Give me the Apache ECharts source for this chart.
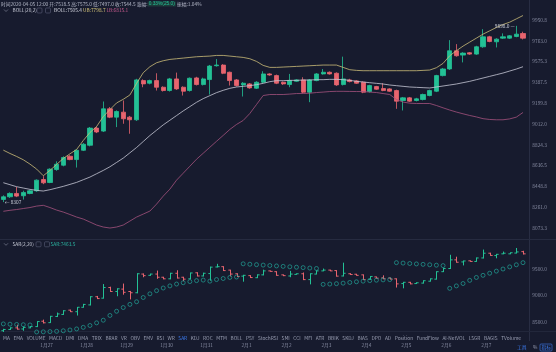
<!DOCTYPE html>
<html>
<head>
<meta charset="utf-8">
<script src="https://cdn.jsdelivr.net/npm/echarts@6/dist/echarts.min.js"></script>
<style>
  html, body { margin: 0; padding: 0; background: #171b2e; }
  #chart { width: 556px; height: 352px; }
</style>
</head>
<body>
<div id="chart"></div>
<script>
// 4h candles, 2020-01-25 20:00 .. 2020-02-08 04:00
const openP  = [8331,8355,8385,8364,8385,8409,8511,8484,8601,8640,8721,8691,8775,8820,8975,8948,9149,9074,9119,9074,
  9050,9404,9380,9404,9344,9314,9419,9344,9314,9428,9368,9413,9538,9544,9479,9410,9365,9374,9335,9389,
  9464,9449,9389,9368,9398,9410,9299,9404,9464,9479,9470,9368,9410,9401,9389,9305,9350,9332,9329,9314,
  9224,9248,9224,9233,9269,9308,9449,9509,9673,9634,9655,9643,9709,9799,9754,9787,9787,9802,9829];
const closeP = [8355,8385,8361,8394,8409,8505,8481,8604,8649,8709,8691,8775,8829,8975,8940,9149,9074,9125,9059,9050,
  9410,9374,9404,9344,9314,9419,9329,9308,9425,9368,9419,9535,9544,9470,9404,9359,9380,9338,9389,9464,
  9455,9380,9374,9404,9410,9299,9410,9464,9479,9464,9365,9419,9395,9380,9299,9359,9326,9314,9308,9218,
  9248,9218,9239,9278,9314,9449,9509,9673,9628,9652,9643,9709,9799,9757,9778,9799,9808,9823,9787];
const lowP   = [8307,8345,8352,8330,8378,8400,8469,8478,8590,8630,8685,8619,8768,8810,8930,8940,9065,8984,9014,8924,
  9040,9344,9370,9314,9305,9305,9320,9269,9305,9360,9360,9278,9530,9462,9359,9350,9260,9330,9328,9380,
  9448,9372,9365,9344,9392,9290,9209,9398,9458,9458,9356,9360,9388,9374,9290,9296,9320,9308,9302,9149,
  9134,9210,9216,9225,9262,9300,9442,9500,9620,9568,9636,9636,9700,9750,9703,9780,9780,9795,9775];
const highP  = [8368,8395,8445,8410,8418,8512,8541,8612,8675,8720,8730,8780,8840,8985,8990,9215,9165,9135,9224,9085,
  9420,9415,9412,9470,9352,9428,9476,9352,9432,9438,9430,9545,9598,9552,9485,9418,9390,9382,9398,9488,
  9470,9458,9395,9464,9416,9434,9418,9472,9508,9486,9478,9620,9420,9408,9396,9366,9356,9380,9335,9322,
  9256,9256,9248,9286,9322,9456,9518,9769,9733,9660,9662,9718,9868,9808,9786,9830,9815,9898,9845];

// BOLL(20,2)
const bollUB = [8776,8746,8719,8689,8650,8605,8545,8593,8647,8701,8743,8782,8863,8935,8989,9079,9142,9202,9235,9274,
  9379,9475,9529,9565,9583,9595,9601,9607,9613,9619,9622,9625,9631,9631,9625,9619,9613,9601,9577,9541,
  9523,9523,9526,9529,9532,9535,9538,9541,9544,9544,9544,9523,9502,9496,9493,9493,9493,9493,9493,9493,
  9493,9493,9493,9496,9499,9520,9559,9628,9673,9715,9751,9787,9823,9853,9883,9910,9931,9961,9991];
const bollMid = [8482,8464,8446,8434,8422,8413,8407,8419,8434,8449,8467,8485,8509,8533,8563,8593,8626,8665,8704,8752,
  8800,8854,8908,8956,9004,9046,9088,9130,9169,9208,9241,9268,9295,9316,9334,9346,9352,9358,9367,9379,
  9394,9403,9403,9406,9406,9409,9409,9412,9412,9415,9415,9412,9406,9397,9391,9385,9379,9373,9364,9358,
  9352,9346,9343,9340,9337,9346,9355,9364,9373,9385,9397,9412,9427,9442,9457,9472,9490,9508,9529];
const bollLB = [8224,8233,8240,8249,8258,8271,8278,8258,8235,8217,8195,8172,8154,8127,8100,8082,8073,8082,8100,8136,
  8172,8199,8226,8289,8361,8424,8505,8568,8631,8694,8748,8802,8856,8909,8963,9008,9044,9107,9188,9269,
  9278,9278,9278,9282,9287,9287,9290,9296,9300,9305,9307,9307,9306,9305,9305,9300,9296,9287,9278,9233,
  9210,9200,9197,9197,9197,9179,9158,9138,9120,9104,9089,9076,9060,9053,9050,9050,9058,9074,9116];

// SAR(2,20) dots
const sarP = [8460,8455,8450,8445,8440,8307,8310,8314,8320,8330,8345,8365,8395,8430,8480,8530,8620,8700,8770,8830,
  8880,8960,9030,9090,9140,9180,9215,9240,9262,9280,9290,9270,9300,9320,9340,9348,9598,9590,9582,9574,
  9566,9558,9550,9542,9534,9526,9518,9510,9209,9215,9222,9232,9245,9258,9270,9280,9288,9294,9299,9620,
  9612,9604,9596,9588,9580,9572,9564,9134,9180,9225,9285,9340,9380,9420,9460,9500,9540,9580,9620];

const dayLabels = ['1月27','1月28','1月29','1月30','1月31','2月1','2月2','2月3','2月4','2月5','2月6','2月7'];
const mainTicks = { min: 8073.25, max: 9950.75, step: 187.75 };
const sarTicks = { min: 8000, max: 10000, step: 500 };
const indicatorNames = ['MA','EMA','VOLUME','MACD','DMI','DMA','TRIX','BRAR','VR','OBV','EMV','RSI','WR','SAR','KDJ',
  'ROC','MTM','BOLL','PSY','StochRSI','SMI','CCI','MFI','ATR','BBIK','SKDJ','BIAS','DPO','AD','Position','FundFlow',
  'AI-NetVOL','LSGR','BAGIS','TVolume'];

const times = [];
const t0 = Date.UTC(2020, 0, 25, 20);
for (let i = 0; i < openP.length; i++) {
  const d = new Date(t0 + i * 4 * 3600e3);
  times.push((d.getUTCMonth() + 1) + '/' + d.getUTCDate() + ' ' + String(d.getUTCHours()).padStart(2, '0') + ':00');
}

const UP = '#23c195', DOWN = '#e8646e';
const FONT = "'Noto Sans CJK SC', 'Noto Sans', sans-serif";
const FS = 4.8;
const LABEL = '#858aa0';

const candles = openP.map((o, i) => [o, closeP[i], lowP[i], highP[i]]);
const ohlcRows = openP.map((o, i) => [i, o, closeP[i], lowP[i], highP[i]]);

// layout of indicator tabs, spread across the bottom
const ctx = document.createElement('canvas').getContext('2d');
ctx.font = FS + 'px ' + FONT;
const widths = indicatorNames.map(n => ctx.measureText(n).width);
const totalW = widths.reduce((a, b) => a + b, 0);
const gap = (521 - 3 - totalW) / (indicatorNames.length - 1);
let cx = 3;
const tabTexts = indicatorNames.map((n, i) => {
  const el = {
    type: 'text', x: cx, y: 338,
    style: { text: n, fill: n === 'SAR' ? '#3c7cf0' : '#9a9fb3', font: FS + 'px ' + FONT, verticalAlign: 'middle' }
  };
  cx += widths[i] + gap;
  return el;
});

function txt(x, y, text, fill) {
  return { type: 'text', x: x, y: y, style: { text: text, fill: fill, font: FS + 'px ' + FONT, verticalAlign: 'middle' } };
}
function icon(x, y) {
  return { type: 'rect', shape: { x: x, y: y - 2.5, width: 5, height: 5, r: 1 }, style: { fill: 'none', stroke: '#5b6078', lineWidth: 0.6 } };
}
function chevron(x, y) {
  return { type: 'polyline', shape: { points: [[x, y - 1], [x + 2, y + 1], [x + 4, y - 1]] }, style: { stroke: '#8a8fa3', lineWidth: 0.6, fill: 'none' } };
}

const chart = echarts.init(document.getElementById('chart'), null, { renderer: 'canvas' });

const option = {
  backgroundColor: '#171b2e',
  animation: false,
  textStyle: { fontFamily: FONT },
  grid: [
    { left: -0.67, right: 29.67, top: 20, height: 208 },
    { left: -0.67, right: 29.67, top: 242.6, height: 105.6 }
  ],
  xAxis: [
    { type: 'category', gridIndex: 0, data: times, show: false },
    {
      type: 'category', gridIndex: 1, data: times, offset: -7,
      axisLine: { show: false }, axisTick: { show: false }, splitLine: { show: false },
      axisLabel: {
        color: LABEL, fontSize: FS, margin: 1.5, padding: [0, 0, 0, 6.67],
        interval: idx => idx >= 6 && idx <= 72 && (idx - 6) % 6 === 0,
        formatter: (v, idx) => dayLabels[(idx - 6) / 6] || ''
      }
    }
  ],
  yAxis: [
    {
      type: 'value', gridIndex: 0, position: 'right',
      min: mainTicks.min, max: mainTicks.max, interval: mainTicks.step,
      axisLine: { show: false }, axisTick: { show: false }, splitLine: { show: false },
      axisLabel: { color: LABEL, fontSize: FS, margin: 6, formatter: v => v.toFixed(1) }
    },
    {
      type: 'value', gridIndex: 1, position: 'right',
      min: sarTicks.min, max: sarTicks.max, interval: sarTicks.step,
      axisLine: { show: false }, axisTick: { show: false }, splitLine: { show: false },
      axisLabel: { color: LABEL, fontSize: FS, margin: 6, showMinLabel: false, showMaxLabel: false, formatter: v => v.toFixed(1) }
    }
  ],
  series: [
    {
      name: 'K', type: 'candlestick', xAxisIndex: 0, yAxisIndex: 0, data: candles, barWidth: '70%',
      itemStyle: { color: UP, color0: DOWN, borderColor: UP, borderColor0: DOWN, borderWidth: 0.8 },
      markPoint: {
        symbol: 'circle', symbolSize: 1, itemStyle: { color: 'rgba(0,0,0,0)' },
        label: { color: '#c9ccd8', fontSize: FS },
        data: [
          { type: 'max', valueDim: 'highest', label: { position: 'left', distance: 1, formatter: p => p.value.toFixed(1) + ' —' } },
          { type: 'min', valueDim: 'lowest', label: { position: 'right', distance: 1, formatter: p => '← ' + p.value } }
        ]
      }
    },
    { name: 'UB', type: 'line', xAxisIndex: 0, yAxisIndex: 0, data: bollUB, showSymbol: false, clip: false,
      lineStyle: { color: '#cbbd78', width: 0.8 } },
    { name: 'BOLL', type: 'line', xAxisIndex: 0, yAxisIndex: 0, data: bollMid, showSymbol: false, clip: false,
      lineStyle: { color: '#c6c8d6', width: 0.8 } },
    { name: 'LB', type: 'line', xAxisIndex: 0, yAxisIndex: 0, data: bollLB, showSymbol: false, clip: false,
      lineStyle: { color: '#a5527e', width: 0.8 } },
    {
      name: 'OHLC', type: 'custom', xAxisIndex: 1, yAxisIndex: 1, data: ohlcRows,
      encode: { x: 0, y: [1, 2, 3, 4] },
      renderItem: function (params, api) {
        const i = api.value(0);
        const o = api.coord([i, api.value(1)]);
        const c = api.coord([i, api.value(2)]);
        const l = api.coord([i, api.value(3)]);
        const h = api.coord([i, api.value(4)]);
        const w = api.size([1, 0])[0] * 0.32;
        const col = api.value(2) >= api.value(1) ? UP : DOWN;
        const x = Math.round(o[0]) + 0.5;
        return {
          type: 'group', children: [
            { type: 'line', shape: { x1: x, y1: h[1], x2: x, y2: l[1] }, style: { stroke: col, lineWidth: 1 } },
            { type: 'line', shape: { x1: x - w, y1: o[1], x2: x, y2: o[1] }, style: { stroke: col, lineWidth: 1 } },
            { type: 'line', shape: { x1: x, y1: c[1], x2: x + w, y2: c[1] }, style: { stroke: col, lineWidth: 1 } }
          ]
        };
      }
    },
    {
      name: 'SAR', type: 'scatter', xAxisIndex: 1, yAxisIndex: 1, data: sarP,
      symbol: 'circle', symbolSize: 4,
      itemStyle: { color: 'rgba(0,0,0,0)', borderColor: '#22b0a2', borderWidth: 0.8 }
    }
  ],
  graphic: [
    { type: 'line', shape: { x1: 529.5, y1: 0, x2: 529.5, y2: 341 }, style: { stroke: '#282d43', lineWidth: 1 } },
    { type: 'line', shape: { x1: 0, y1: 239.5, x2: 556, y2: 239.5 }, style: { stroke: '#262b40', lineWidth: 1 } },
    { type: 'line', shape: { x1: 0, y1: 331.5, x2: 556, y2: 331.5 }, style: { stroke: '#22273b', lineWidth: 1 } },
    // header info
    {
      type: 'text', x: 1, y: 4,
      style: {
        text: '时间2020-04-05 12:00 开:7518.5 高:7575.0 低:7497.0 收:7544.5 涨幅:{g|0.33%(25.0)} 振幅:1.04%',
        fill: '#b4b8c8', font: FS + 'px ' + FONT, verticalAlign: 'middle',
        rich: { g: { fill: '#23c195', backgroundColor: '#1d3a3a', fontSize: FS, padding: [0, 1] } }
      }
    },
    chevron(4, 10.5), txt(12.5, 10.5, 'BOLL(20,2)', '#c7cad6'), icon(37, 10.5), icon(45.5, 10.5),
    txt(54, 10.5, 'BOLL:7505.4', '#d2d4de'), txt(83, 10.5, 'UB:7798.7', '#d8c77a'), txt(106.5, 10.5, 'LB:6815.1', '#c65b8e'),
    // SAR panel title
    chevron(4, 244.3), txt(12.5, 244.3, 'SAR(2,20)', '#c7cad6'), icon(36, 244.3), icon(44.5, 244.3),
    txt(50.5, 244.3, 'SAR:7463.5', '#2bb3a0'),
    // bottom right tools
    txt(517, 347.5, '工具', '#3c7cf0'), txt(533, 347.5, '%', '#9a9fb3'),
    { type: 'rect', shape: { x: 540, y: 344, width: 12, height: 7, r: 1 }, style: { fill: 'none', stroke: '#3c7cf0', lineWidth: 0.6 } },
    txt(541.5, 347.5, '指标', '#3c7cf0')
  ].concat(tabTexts)
};

option && chart.setOption(option);
</script>
</body>
</html>
